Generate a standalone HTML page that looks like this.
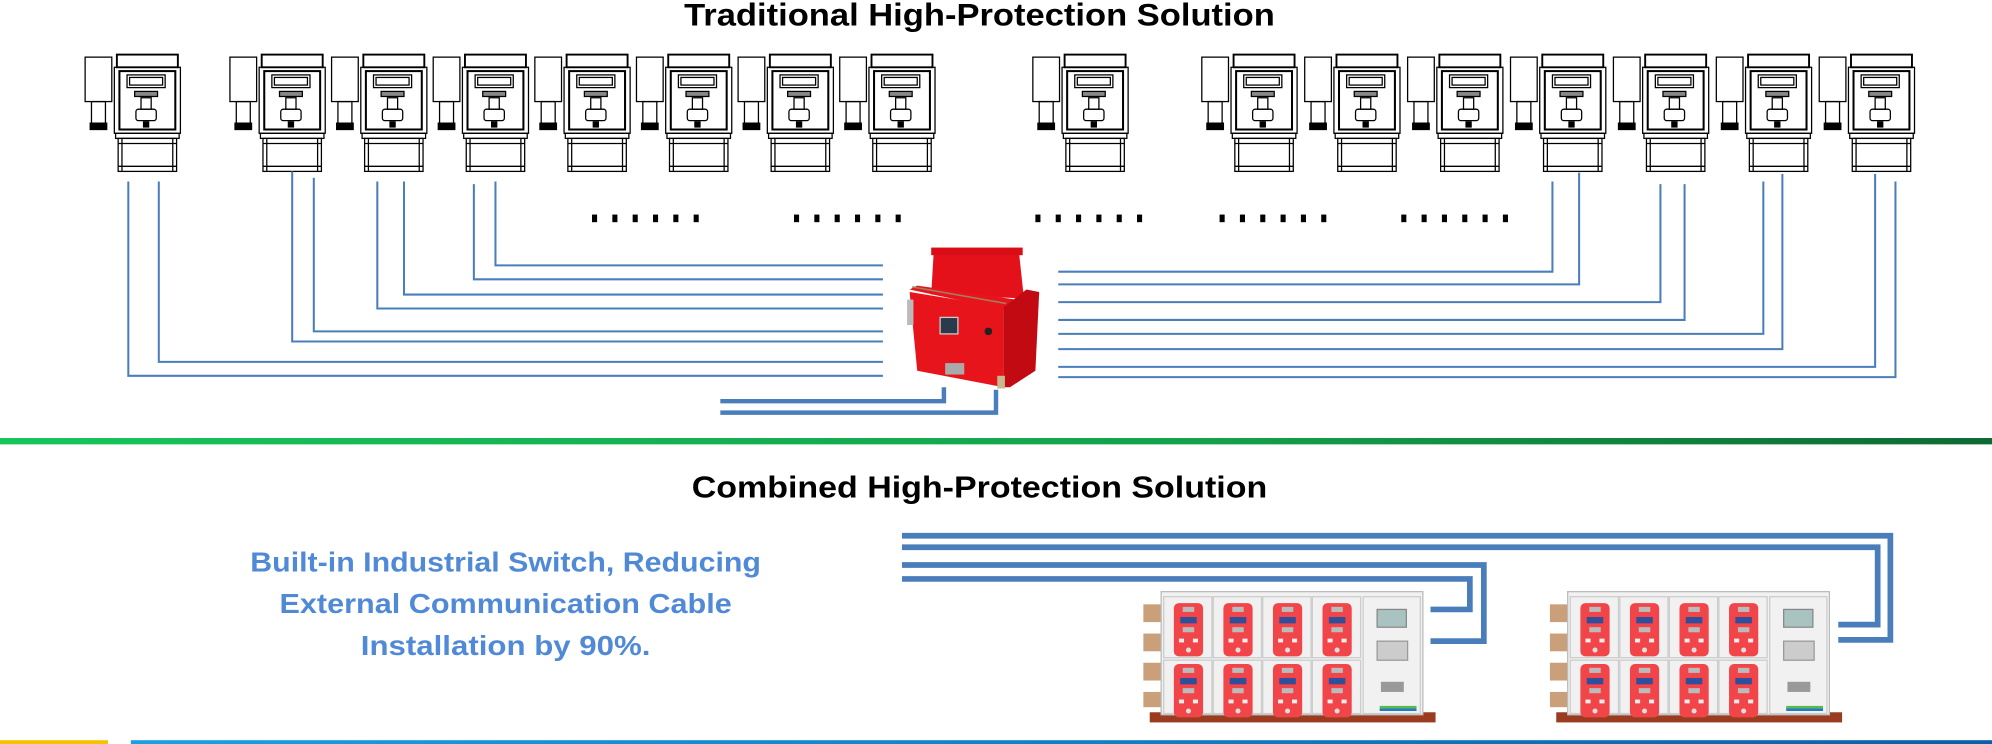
<!DOCTYPE html>
<html><head><meta charset="utf-8"><style>
html,body{margin:0;padding:0;background:#fff;width:1992px;height:744px;overflow:hidden}
svg{display:block}
</style></head><body>
<svg width="1992" height="744" viewBox="0 0 1568 586" preserveAspectRatio="none" xmlns="http://www.w3.org/2000/svg">
<defs>
<linearGradient id="gl" x1="0" x2="1"><stop offset="0" stop-color="#16c45c"/><stop offset="0.6" stop-color="#13a24a"/><stop offset="1" stop-color="#0d6a34"/></linearGradient>
<linearGradient id="bl" x1="0" x2="1"><stop offset="0" stop-color="#1aa0e0"/><stop offset="1" stop-color="#0a5fa8"/></linearGradient>
<g id="cab" fill="none" stroke="#000" stroke-width="1">
<rect x="-23" y="45" width="21" height="35" fill="#fff"/>
<rect x="-18" y="80" width="11" height="17"/>
<rect x="-19" y="97" width="13" height="5" fill="#000"/>
<rect x="2" y="43" width="48" height="10" stroke-width="1.5"/>
<rect x="0" y="53" width="52" height="52"/>
<rect x="4" y="56" width="44" height="46" stroke-width="1.6"/>
<rect x="10" y="59" width="30" height="10"/>
<rect x="12" y="61" width="26" height="6"/>
<rect x="16" y="72" width="18" height="4" fill="#888"/>
<rect x="21" y="77" width="8" height="9"/>
<rect x="17" y="86" width="16" height="9" rx="2"/>
<rect x="23" y="96" width="4" height="4" fill="#000"/>
<rect x="1" y="105" width="50" height="4"/>
<rect x="3" y="109" width="46" height="26"/>
<line x1="6" y1="109" x2="6" y2="135"/><line x1="46" y1="109" x2="46" y2="135"/>
<line x1="3" y1="113" x2="49" y2="113"/><line x1="3" y1="131" x2="49" y2="131"/>
</g>
<g id="dots" fill="#000"><rect x="0" y="169" width="4" height="6"/><rect x="16" y="169" width="4" height="6"/><rect x="32" y="169" width="4" height="6"/><rect x="48" y="169" width="4" height="6"/><rect x="64" y="169" width="4" height="6"/><rect x="80" y="169" width="4" height="6"/></g>
<g id="rp">
<rect x="0" y="0" width="23" height="42" rx="4" fill="#f2454a"/>
<rect x="7" y="3" width="9" height="4" fill="#bbb"/>
<rect x="5" y="11" width="13" height="5" fill="#2f4f9a"/>
<rect x="7" y="19" width="9" height="4" fill="#bbb"/>
<rect x="4" y="28" width="4" height="3" fill="#eee"/><rect x="15" y="28" width="4" height="3" fill="#eee"/>
<circle cx="11.5" cy="37" r="2" fill="#ddd"/>
</g>
<g id="bc">
<rect x="-9" y="95" width="225" height="8" fill="#9b3b1f"/>
<g fill="#c9a07a"><rect x="-14" y="10" width="14" height="14"/><rect x="-14" y="33" width="14" height="14"/><rect x="-14" y="56" width="14" height="14"/><rect x="-14" y="79" width="14" height="12"/></g>
<rect x="0" y="0" width="206" height="97" fill="#f1f1f1" stroke="#bbb" stroke-width="1"/>
<g fill="none" stroke="#ccc"><rect x="2" y="4" width="38" height="48"/><rect x="41" y="4" width="38" height="48"/><rect x="80" y="4" width="38" height="48"/><rect x="119" y="4" width="38" height="48"/><rect x="2" y="54" width="38" height="42"/><rect x="41" y="54" width="38" height="42"/><rect x="80" y="54" width="38" height="42"/><rect x="119" y="54" width="38" height="42"/><rect x="159" y="4" width="45" height="92"/></g>
<use href="#rp" x="10" y="9"/><use href="#rp" x="49" y="9"/><use href="#rp" x="88" y="9"/><use href="#rp" x="127" y="9"/>
<use href="#rp" x="10" y="57"/><use href="#rp" x="49" y="57"/><use href="#rp" x="88" y="57"/><use href="#rp" x="127" y="57"/>
</g>
</defs>

<text x="771" y="20" text-anchor="middle" font-family="Liberation Sans, sans-serif" font-weight="bold" font-size="25" textLength="465" lengthAdjust="spacingAndGlyphs">Traditional High-Protection Solution</text>

<use href="#cab" x="90"/>
<use href="#cab" x="204"/><use href="#cab" x="284"/><use href="#cab" x="364"/><use href="#cab" x="444"/><use href="#cab" x="524"/><use href="#cab" x="604"/><use href="#cab" x="684"/>
<use href="#cab" x="836"/>
<use href="#cab" x="969"/><use href="#cab" x="1050"/><use href="#cab" x="1131"/><use href="#cab" x="1212"/><use href="#cab" x="1293"/><use href="#cab" x="1374"/><use href="#cab" x="1455"/>

<use href="#dots" x="466"/><use href="#dots" x="625"/><use href="#dots" x="815"/><use href="#dots" x="960"/><use href="#dots" x="1103"/>

<g fill="none" stroke="#4a7ebb" stroke-width="1.6">
<polyline points="390,143 390,209 695,209"/>
<polyline points="373,145 373,220 695,220"/>
<polyline points="318,143 318,232 695,232"/>
<polyline points="297,143 297,243 695,243"/>
<polyline points="247,140 247,261 695,261"/>
<polyline points="230,135 230,269 695,269"/>
<polyline points="125,143 125,285 695,285"/>
<polyline points="101,143 101,296 695,296"/>
<polyline points="1222,143 1222,214 833,214"/>
<polyline points="1243,136 1243,224 833,224"/>
<polyline points="1307,145 1307,238 833,238"/>
<polyline points="1326,145 1326,252 833,252"/>
<polyline points="1388,143 1388,263 833,263"/>
<polyline points="1403,137 1403,275 833,275"/>
<polyline points="1476,137 1476,289 833,289"/>
<polyline points="1492,143 1492,297 833,297"/>
</g>
<g fill="none" stroke="#4a7ebb" stroke-width="3.5">
<polyline points="567,316 743,316 743,305"/>
<polyline points="567,325 784,325 784,307"/>
</g>

<!-- red box -->
<polygon points="735,198 802,198 806,235 733,232" fill="#e4111b"/>
<rect x="733" y="195" width="72" height="6" fill="#d80d15"/>
<polygon points="716,228 722,225 800,236 790,244" fill="#e8141c"/>
<polygon points="716,230 790,242 790,305 722,292" fill="#e8141c"/>
<polygon points="790,242 808,228 818,230 815,292 795,305 790,305" fill="#c20a12"/>
<line x1="718" y1="226" x2="792" y2="239" stroke="#a08060" stroke-width="1.2"/>
<rect x="740" y="250" width="14" height="13" fill="#2a3a4a" stroke="#ccc"/>
<rect x="744" y="286" width="15" height="9" fill="#aaa"/>
<circle cx="778" cy="261" r="3" fill="#222"/>
<rect x="714" y="236" width="5" height="20" fill="#bbb"/>
<rect x="785" y="296" width="6" height="10" fill="#c8b890"/>

<rect x="0" y="345" width="1568" height="5" fill="url(#gl)"/>

<text x="771" y="392" text-anchor="middle" font-family="Liberation Sans, sans-serif" font-weight="bold" font-size="24" textLength="453" lengthAdjust="spacingAndGlyphs">Combined High-Protection Solution</text>

<g font-family="Liberation Sans, sans-serif" font-weight="bold" font-size="22" fill="#5089d6" text-anchor="middle">
<text x="398" y="450" textLength="402" lengthAdjust="spacingAndGlyphs">Built-in Industrial Switch, Reducing</text>
<text x="398" y="483" textLength="356" lengthAdjust="spacingAndGlyphs">External Communication Cable</text>
<text x="398" y="516" textLength="228" lengthAdjust="spacingAndGlyphs">Installation by 90%.</text>
</g>

<use href="#bc" x="914" y="466"/>
<use href="#bc" x="1234" y="466"/>
<g>
<rect x="1084" y="480" width="23" height="14" fill="#a9c4c0" stroke="#888"/>
<rect x="1084" y="505" width="24" height="15" fill="#ccc" stroke="#999"/>
<rect x="1087" y="537" width="18" height="8" fill="#999"/>
<rect x="1086" y="556" width="29" height="2" fill="#5bbb4a"/><rect x="1086" y="558" width="29" height="2" fill="#1f7ac8"/>
<rect x="1404" y="480" width="23" height="14" fill="#a9c4c0" stroke="#888"/>
<rect x="1404" y="505" width="24" height="15" fill="#ccc" stroke="#999"/>
<rect x="1407" y="537" width="18" height="8" fill="#999"/>
<rect x="1406" y="556" width="29" height="2" fill="#5bbb4a"/><rect x="1406" y="558" width="29" height="2" fill="#1f7ac8"/>
</g>

<g fill="none" stroke="#4a7ebb" stroke-width="4.5">
<polyline points="710,422 1488,422 1488,504 1447,504"/>
<polyline points="710,431 1478,431 1478,492 1447,492"/>
<polyline points="710,445 1168,445 1168,505 1126,505"/>
<polyline points="710,456 1157,456 1157,480 1126,480"/>
</g>

<rect x="0" y="583" width="85" height="3" fill="#f6c200"/>
<rect x="103" y="583" width="1465" height="3" fill="url(#bl)"/>
</svg>
</body></html>
